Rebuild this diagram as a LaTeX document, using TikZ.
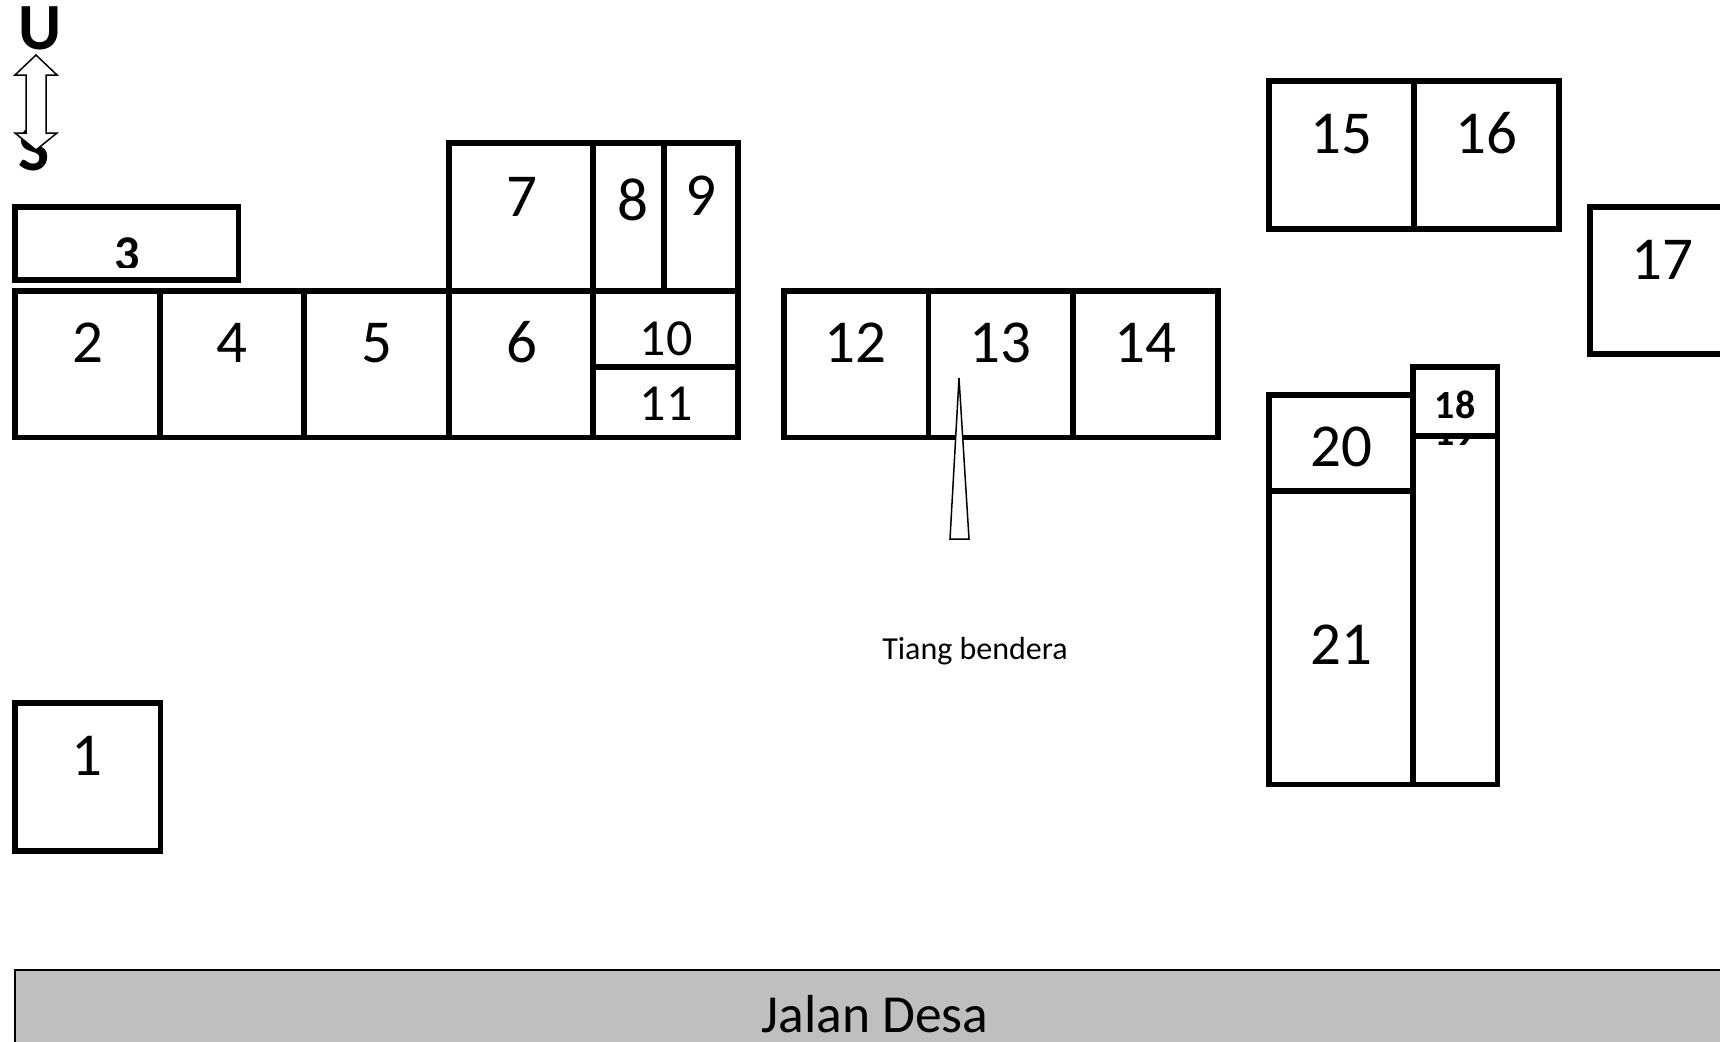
\documentclass[tikz,border=0pt]{standalone}
\usepackage{fontspec}
\setmainfont{Carlito}
\tikzset{
  x=1pt,y=-1pt,
  room/.style={draw=black,line width=5.2pt,fill=white,line join=miter},
  lab/.style={anchor=base,inner sep=0pt,outer sep=0pt,text=black},
  big/.style={lab,font=\fontsize{61}{61}\selectfont},
  mid/.style={lab,font=\fontsize{52}{52}\selectfont},
  small/.style={lab,font=\fontsize{40}{40}\selectfont\bfseries},
  cardinal/.style={lab,font=\fontsize{66}{66}\selectfont\bfseries},
  thinshape/.style={draw=black,line width=1.5pt,fill=white,line join=miter},
}
\begin{document}
\begin{tikzpicture}
\path[use as bounding box,clip] (0,0) rectangle (1720,1041);
\fill[white] (0,0) rectangle (1720,1041);
% compass
\node[cardinal] (u) at (40,50) {U};
\node[cardinal] (s) at (34,170) {S};
\path[thinshape] (36,55) -- (57,75) -- (46,75) -- (46,133) -- (57,133) -- (36,150) -- (15,133) -- (26,133) -- (26,75) -- (15,75) -- cycle;
% building 3, its number cut by the frame of the text
\path[room] (15,207) rectangle (238.5,280);
\begin{scope}
\clip (15,207) rectangle (239,267);
\node[small,font=\fontsize{50}{50}\selectfont\bfseries] (n3) at (127,270) {3};
\end{scope}
% upper rooms
\path[room] (449,143) rectangle (593,291);
\path[room] (593,143) rectangle (664,291);
\path[room] (664,143) rectangle (738,291);
% main row
\path[room] (15,291) rectangle (160,437.5);
\path[room] (160,291) rectangle (304,437.5);
\path[room] (304,291) rectangle (449,437.5);
\path[room] (449,291) rectangle (593,437.5);
\path[room] (593,291) rectangle (738,367);
\path[room] (593,367) rectangle (738,437.5);
\path[room] (784,291) rectangle (928.5,437.5);
\path[room] (928.5,291) rectangle (1073,437.5);
\path[room] (1073,291) rectangle (1218,437.5);
% right group
\path[room] (1269,81) rectangle (1414,229);
\path[room] (1414,81) rectangle (1559,229);
\path[room] (1590,207) rectangle (1740,354);
\path[room] (1413,436) rectangle (1497.5,784.5);
\node[small] (n19) at (1455,445) {19};
\path[room] (1413,367) rectangle (1497.5,436);
\path[room] (1269,395) rectangle (1413,491);
\path[room] (1269,491) rectangle (1413,784.5);
\path[room] (15,703) rectangle (160.5,851);
% numbers
\node[big] (n1) at (87,775) {1};
\node[big] (n2) at (87.5,362) {2};
\node[big] (n4) at (232,362) {4};
\node[big] (n5) at (376.5,362) {5};
\node[big] (n6) at (521.5,362) {6};
\node[big] (n7) at (522,216) {7};
\node[big] (n8) at (632.5,220) {8};
\node[big] (n9) at (701,215) {9};
\node[mid] (n10) at (666,355) {10};
\node[mid] (n11) at (666,420) {11};
\node[big] (n12) at (855.5,362) {12};
\node[big] (n13) at (1000,362) {13};
\node[big] (n14) at (1145,362) {14};
\node[big] (n15) at (1341,153) {15};
\node[big] (n16) at (1486,153) {16};
\node[big] (n17) at (1662,279) {17};
\node[small] (n18) at (1455,418) {18};
\node[big] (n20) at (1341,466) {20};
\node[big] (n21) at (1341,664) {21};
% flag pole
\path[thinshape] (959,378) -- (969,539) -- (950,539) -- cycle;
\node[lab,font=\fontsize{32}{32}\selectfont] (pole) at (975,659) {Tiang bendera};
% road
\path[draw=black,line width=1.5pt,fill=black!25] (15,970) rectangle (1740,1060);
\node[lab,font=\fontsize{53.5}{53.5}\selectfont] (road) at (875,1032) {Jalan Desa};
\end{tikzpicture}
\end{document}
